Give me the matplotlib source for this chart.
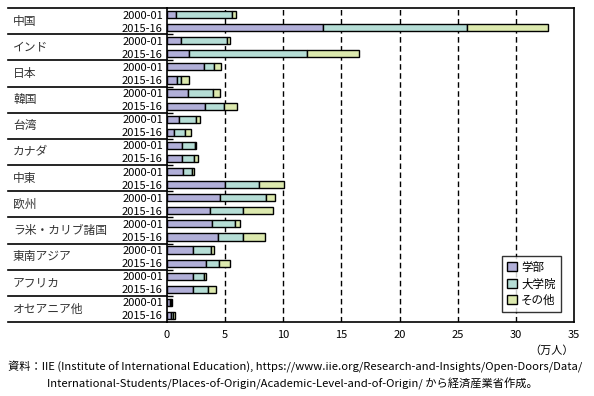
import matplotlib
matplotlib.use("Agg")
import numpy as np
import matplotlib.pyplot as plt
import matplotlib.transforms as mtransforms
from matplotlib.patches import Patch

plt.rcParams["font.family"] = ["Noto Sans CJK JP", "DejaVu Sans"]

regions = ["中国", "インド", "日本", "韓国", "台湾", "カナダ", "中東", "欧州",
           "ラ米・カリブ諸国", "東南アジア", "アフリカ", "オセアニア他"]
periods = ["2000-01", "2015-16"]

# 万人, rows in order: region0 2000-01, region0 2015-16, region1 2000-01, ...
undergrad = [0.78, 13.45, 1.24, 1.93, 3.19, 0.86, 1.81, 3.30, 1.03, 0.60, 1.29, 1.29,
             1.38, 5.00, 4.57, 3.71, 3.88, 4.40, 2.24, 3.36, 2.24, 2.24, 0.26, 0.34]
graduate = [4.82, 12.35, 3.93, 10.14, 0.86, 0.35, 2.16, 1.64, 1.47, 0.98, 1.15, 1.04,
            0.78, 2.93, 3.96, 2.84, 2.01, 2.15, 1.55, 1.12, 0.95, 1.29, 0.11, 0.18]
other = [0.35, 7.00, 0.26, 4.48, 0.61, 0.69, 0.60, 1.09, 0.34, 0.49, 0.06, 0.34,
         0.17, 2.16, 0.78, 2.59, 0.40, 1.90, 0.26, 0.95, 0.17, 0.69, 0.06, 0.17]

labels = ["学部", "大学院", "その他"]
colors = ["#b1afd8", "#b5ddd5", "#dce9ae"]

fig = plt.figure(figsize=(5.94, 3.96), dpi=100)
ax = fig.add_axes([167 / 594, 1 - 322 / 396, 407 / 594, 314 / 396])

n = len(undergrad)
y = np.arange(n)
left = np.zeros(n)
for vals, col, lab in zip([undergrad, graduate, other], colors, labels):
    ax.barh(y, vals, left=left, height=0.55, color=col, edgecolor="black",
            linewidth=1.0, label=lab, zorder=3)
    left += np.array(vals)

ax.set_xlim(0, 35)
ax.set_ylim(n - 0.5, -0.5)
ax.set_xticks(np.arange(0, 36, 5))
ax.tick_params(axis="x", length=0, pad=6, labelsize=8)
ax.set_yticks(y)
ax.set_yticklabels([periods[i % 2] for i in range(n)], fontsize=8)
ax.tick_params(axis="y", which="major", length=0, pad=3)
ax.set_yticks(np.arange(1.5, n - 1, 2), minor=True)
ax.tick_params(axis="y", which="minor", direction="in", length=4, width=1.0)

for v in range(5, 35, 5):
    ax.axvline(v, color="black", linestyle=(0, (4, 2.5)), linewidth=1.0, zorder=1)

for s in ax.spines.values():
    s.set_linewidth(1.2)

trans = mtransforms.blended_transform_factory(ax.transAxes, ax.transData)
x0 = (8 - 167) / 407
for b in np.arange(-0.5, n, 2):
    ax.plot([x0, 0], [b, b], color="black", linewidth=1.2, transform=trans,
            clip_on=False)
for g, name in enumerate(regions):
    ax.text((13 - 167) / 407, 2 * g + 0.5, name, transform=trans,
            ha="left", va="center", fontsize=8.5, color="#333333")

ax.text(1.0, -0.092, "（万人）", transform=ax.transAxes, ha="right", va="center",
        fontsize=8)

handles = [Patch(facecolor=c, edgecolor="black", label=l) for c, l in zip(colors, labels)]
leg = ax.legend(handles=handles, loc="lower right", bbox_to_anchor=(0.968, 0.032),
                borderaxespad=0, fontsize=8.3, frameon=True, fancybox=False,
                handlelength=0.8, handleheight=0.8, handletextpad=0.4,
                borderpad=0.45, labelspacing=0.3)
leg.get_frame().set_edgecolor("black")
leg.get_frame().set_linewidth(1.0)

fig.text(8 / 594, 1 - 367 / 396,
         "資料：IIE (Institute of International Education), https://www.iie.org/Research-and-Insights/Open-Doors/Data/",
         ha="left", va="center", fontsize=8.1)
fig.text(47 / 594, 1 - 384 / 396,
         "International-Students/Places-of-Origin/Academic-Level-and-of-Origin/ から経済産業省作成。",
         ha="left", va="center", fontsize=8.1)

fig.savefig("out.png", dpi=100)
